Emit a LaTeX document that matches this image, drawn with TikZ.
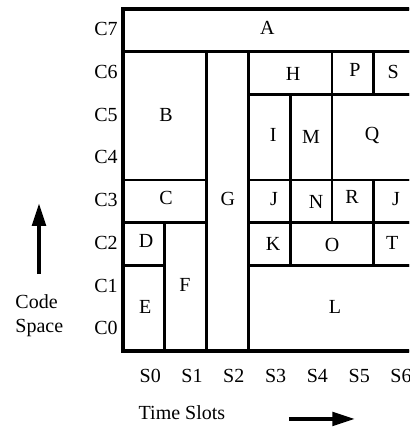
\documentclass[tikz,border=0pt]{standalone}
\usepackage{fontspec}
\setmainfont{Liberation Serif}
\usetikzlibrary{arrows.meta}
\tikzset{>={Triangle[length=17pt,width=10pt]}}
\tikzset{blk/.style={line width=2.2pt},
         rim/.style={line width=2.8pt},
         lbl/.style={font=\fontsize{15}{18}\selectfont, inner sep=0pt}}

\begin{document}
\begin{tikzpicture}[x=31.35pt,y=32.06pt]
\clip (-2.943,-1.801) rectangle (6.842,8.211);
\draw [blk] (0,7) rectangle (7,8);
\draw [blk] (0,4) rectangle (2,7);
\draw [blk] (0,3) rectangle (2,4);
\draw [blk] (0,2) rectangle (1,3);
\draw [blk] (0,0) rectangle (1,2);
\draw [blk] (1,0) rectangle (2,3);
\draw [blk] (2,0) rectangle (3,7);
\draw [blk] (3,6) rectangle (5,7);
\draw [blk] (5,6) rectangle (6,7);
\draw [blk] (6,6) rectangle (7,7);
\draw [blk] (3,4) rectangle (4,6);
\draw [blk] (4,4) rectangle (5,6);
\draw [blk] (5,4) rectangle (7,6);
\draw [blk] (3,3) rectangle (4,4);
\draw [blk] (4,3) rectangle (5,4);
\draw [blk] (5,3) rectangle (6,4);
\draw [blk] (6,3) rectangle (7,4);
\draw [blk] (3,2) rectangle (4,3);
\draw [blk] (4,2) rectangle (6,3);
\draw [blk] (6,2) rectangle (7,3);
\draw [blk] (3,0) rectangle (7,2);
\draw [rim] (7,8)--(0,8)--(0,0)--(7,0);

\node [lbl] (A) at (3.45,7.55) {A};
\node [lbl] (B) at (1.03,5.52) {B};
\node [lbl] (C) at (1.03,3.58) {C};
\node [lbl] (D) at (0.55,2.57) {D};
\node [lbl] (E) at (0.53,1.03) {E};
\node [lbl] (F) at (1.48,1.54) {F};
\node [lbl] (G) at (2.51,3.56) {G};
\node [lbl] (H) at (4.07,6.48) {H};
\node [lbl] (I) at (3.59,5.05) {I};
\node [lbl] (M) at (4.50,5.01) {M};
\node [lbl] (P) at (5.55,6.57) {P};
\node [lbl] (S) at (6.46,6.53) {S};
\node [lbl] (Q) at (5.96,5.03) {Q};
\node [lbl] (J) at (3.61,3.56) {J};
\node [lbl] (N) at (4.62,3.49) {N};
\node [lbl] (R) at (5.48,3.60) {R};
\node [lbl] (J2) at (6.53,3.56) {J};
\node [lbl] (K) at (3.59,2.50) {K};
\node [lbl] (O) at (5.00,2.48) {O};
\node [lbl] (T) at (6.44,2.53) {T};
\node [lbl] (L) at (5.07,1.03) {L};

\foreach \c in {0,...,7}
  \node [lbl, anchor=east] (code\c) at (-0.12,\c+0.53) {C\c};
\foreach \s in {0,...,6}
  \node [lbl] (slot\s) at (\s+0.65,-0.585) {S\s};

\node [lbl, anchor=west, align=left] (codespace) at (-2.58,0.83) {Code\\Space};
\node [lbl] (timeslots) at (1.41,-1.45) {Time Slots};

\coordinate (up0) at (-2.01,1.80);
\coordinate (up1) at (-2.01,3.46);
\coordinate (rt0) at (3.97,-1.59);
\coordinate (rt1) at (5.55,-1.59);
\draw [->, line width=3pt] (up0) -- (up1);
\draw [->, line width=3pt] (rt0) -- (rt1);
\end{tikzpicture}
\end{document}
